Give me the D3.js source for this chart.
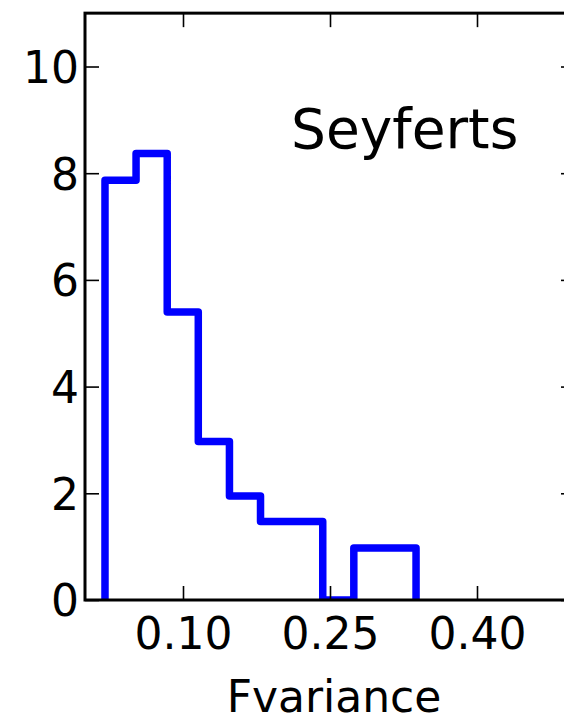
<!DOCTYPE html>
<html>
<head>
<meta charset="utf-8">
<script src="https://cdn.jsdelivr.net/npm/d3@7"></script>
<style>
  html, body { margin: 0; padding: 0; background: #fff; }
  svg { display: block; }
  text { font-family: "DejaVu Sans", sans-serif; fill: #000; }
</style>
</head>
<body>
<script>
// Normalised histogram of Fvariance for the Seyfert sample (step outline)
const binEdges = [0.0204, 0.0521, 0.0839, 0.1156, 0.1474, 0.1791, 0.2108, 0.2426, 0.2743, 0.3061, 0.3378];
const density  = [7.87, 8.37, 5.40, 2.97, 1.95, 1.47, 1.47, 0, 0.975, 0.975];
const xTicks = [0.10, 0.25, 0.40];
const yTicks = [0, 2, 4, 6, 8, 10];
const xLabel = "Fvariance";
const panelLabel = "Seyferts";

const W = 564, H = 717;
const svg = d3.select("body").append("svg").attr("width", W).attr("height", H);

const x = d3.scaleLinear().domain([0, 0.5]).range([85, 575]);
const y = d3.scaleLinear().domain([0, 11]).range([600, 600 - 11 * 53.35]);

const [x0, x1] = x.range();
const [yb, yt] = y.range();

svg.append("clipPath").attr("id", "plot-area")
  .append("rect").attr("x", x0).attr("y", yt).attr("width", x1 - x0).attr("height", yb - yt);

// step outline: up from the first edge, across each bin, down at the last edge
const pts = [[binEdges[0], 0]];
density.forEach((d, i) => { pts.push([binEdges[i], d]); pts.push([binEdges[i + 1], d]); });
pts.push([binEdges[binEdges.length - 1], 0]);

svg.append("path")
  .attr("clip-path", "url(#plot-area)")
  .attr("d", d3.line().x(d => x(d[0])).y(d => y(d[1]))(pts))
  .attr("fill", "none")
  .attr("stroke", "#0000ff")
  .attr("stroke-width", 7.5)
  .attr("stroke-linejoin", "round")
  .attr("stroke-linecap", "butt");

const fontSize = 44;
function styleAxis(g) {
  g.select(".domain").remove();
  g.selectAll(".tick line").attr("stroke", "#000").attr("stroke-width", 1.6);
  g.selectAll("text").attr("font-size", fontSize).attr("font-family", "DejaVu Sans").attr("fill", "#000");
}

svg.append("g").attr("transform", `translate(0,${yb})`)
  .call(d3.axisBottom(x).tickValues(xTicks).tickFormat(d3.format(".2f")).tickSizeInner(-14).tickSizeOuter(0).tickPadding(18))
  .call(styleAxis);

svg.append("g").attr("transform", `translate(0,${yt})`)
  .call(d3.axisTop(x).tickValues(xTicks).tickFormat("").tickSizeInner(-14).tickSizeOuter(0))
  .call(styleAxis);

svg.append("g").attr("transform", `translate(${x0},0)`)
  .call(d3.axisLeft(y).tickValues(yTicks).tickFormat(d3.format("d")).tickSizeInner(-14).tickSizeOuter(0).tickPadding(6))
  .call(styleAxis)
  .call(g => g.selectAll("text").attr("dy", "0.36em"));

svg.append("g").attr("transform", `translate(${x1},0)`)
  .call(d3.axisRight(y).tickValues(yTicks).tickFormat("").tickSizeInner(-14).tickSizeOuter(0))
  .call(styleAxis);

// frame
svg.append("rect")
  .attr("x", x0).attr("y", yt).attr("width", x1 - x0).attr("height", yb - yt)
  .attr("fill", "none").attr("stroke", "#000").attr("stroke-width", 3);

svg.append("text")
  .attr("x", 334).attr("y", 712)
  .attr("text-anchor", "middle").attr("font-size", fontSize)
  .text(xLabel);

svg.append("text")
  .attr("x", 291).attr("y", 148)
  .attr("font-size", 55)
  .text(panelLabel);
</script>
</body>
</html>
